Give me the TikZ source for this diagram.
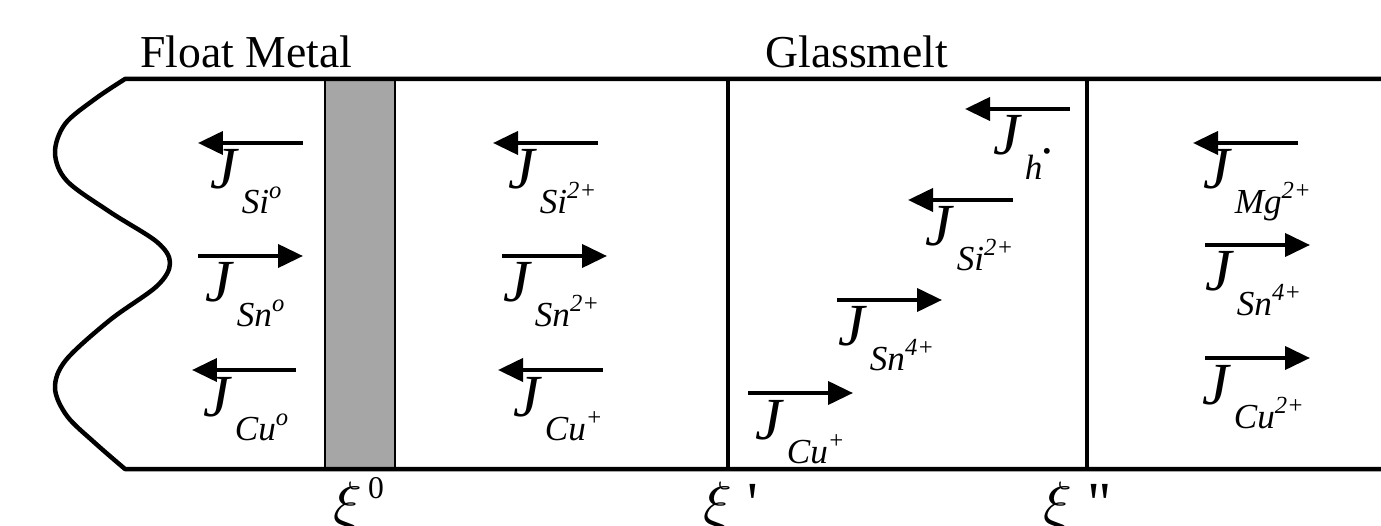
\documentclass[tikz,border=0pt]{standalone}
\usepackage{fontspec}
\setmainfont{Liberation Serif}
\usetikzlibrary{arrows.meta}

\definecolor{bandgray}{RGB}{166,166,166}
% flux label: J with species and charge
\newcommand{\jflux}[2]{{\fontsize{34}{34}\selectfont\itshape J}\hspace{0.1cm}\raisebox{-0.5cm}{\fontsize{20}{20}\selectfont\itshape #1\raisebox{0.3cm}{\fontsize{14}{14}\selectfont #2}}}
% interface position symbol
\newcommand{\bigxi}{\scalebox{3.4}{\fontsize{10}{12}\selectfont$\xi$}}

\begin{document}
\begin{tikzpicture}[
    x=0.02cm, y=-0.02cm,
    frame/.style={line width=0.09cm, line join=round},
    wall/.style={line width=0.09cm},
    band/.style={fill=bandgray, draw=black, line width=1.2pt},
    leftflux/.style={line width=0.08cm, {Triangle[length=0.5cm,width=0.46cm]}-},
    rightflux/.style={line width=0.08cm, -{Triangle[length=0.5cm,width=0.46cm]}},
    flux/.style={anchor=base west, inner sep=0pt},
    title/.style={anchor=base west, inner sep=0pt, font=\fontsize{26}{26}\selectfont},
    xilabel/.style={anchor=base west, inner sep=0pt, font=\fontsize{34}{34}\selectfont}
]
    \useasboundingbox (0,0) rectangle (1381,526);

    % Interface layer
    \draw [band] (325,79) rectangle (395,469);

    % Outline and walls
    \draw [frame] (1381,79) -- plot[smooth, tension=0.55] coordinates {(125,79) (95,99) (65,124) (55,153) (67,181) (110,212) (157,242) (170,263) (157,286) (110,320) (66,360) (55,388) (67,416) (95,443) (125,469)} -- (1381,469);
    \draw [wall] (728,79) -- (728,469);
    \draw [wall] (1087,79) -- (1087,469);

    % Titles
    \node (t_metal) [title] at (140,68) {Float Metal};
    \node (t_glass) [title] at (765,68) {Glassmelt};

    % Positions
    \node (xi0) [xilabel] at (333,523) {\bigxi\hspace{0.12cm}\raisebox{0.5cm}{\fontsize{18}{18}\selectfont 0}};
    \node (xi1) [xilabel] at (703,523) {\bigxi\hspace{0.3cm}\textquotesingle};
    \node (xi2) [xilabel] at (1043,523) {\bigxi\hspace{0.3cm}\textquotedbl};

    % Fluxes - Float Metal
    \coordinate (f_si0) at (198,143);
    \coordinate (f_sn0) at (198,256);
    \coordinate (f_cu0) at (192,370);
    \draw [leftflux] (f_si0) -- ++(105,0);
    \draw [rightflux] (f_sn0) -- ++(105,0);
    \draw [leftflux] (f_cu0) -- ++(104,0);
    \node (j_si0) [flux] at (210,189) {\jflux{Si}{o}};
    \node (j_sn0) [flux] at (205,302) {\jflux{Sn}{o}};
    \node (j_cu0) [flux] at (203,416) {\jflux{Cu}{o}};

    % Fluxes - Glassmelt near surface
    \coordinate (f_si2) at (493,143);
    \coordinate (f_sn2) at (502,256);
    \coordinate (f_cu1) at (498,370);
    \draw [leftflux] (f_si2) -- ++(105,0);
    \draw [rightflux] (f_sn2) -- ++(105,0);
    \draw [leftflux] (f_cu1) -- ++(105,0);
    \node (j_si2) [flux] at (508,189) {\jflux{Si}{2+}};
    \node (j_sn2) [flux] at (503,302) {\jflux{Sn}{2+}};
    \node (j_cu1) [flux] at (513,416) {\jflux{Cu}{+}};

    % Fluxes - Glassmelt middle
    \coordinate (g_cu1) at (748,393);
    \coordinate (g_sn4) at (837,300);
    \coordinate (g_si2) at (908,200);
    \coordinate (g_hole) at (965,109);
    \draw [rightflux] (g_cu1) -- ++(105,0);
    \draw [rightflux] (g_sn4) -- ++(105,0);
    \draw [leftflux] (g_si2) -- ++(105,0);
    \draw [leftflux] (g_hole) -- ++(105,0);
    \node (k_cu1) [flux] at (755,439) {\jflux{Cu}{+}};
    \node (k_sn4) [flux] at (838,346) {\jflux{Sn}{4+}};
    \node (k_si2) [flux] at (925,246) {\jflux{Si}{2+}};
    \node (k_hole) [flux] at (993,155) {\jflux{h}{\raisebox{0.1cm}{\textbullet}}};

    % Fluxes - Glassmelt bulk
    \coordinate (b_mg2) at (1193,143);
    \coordinate (b_sn4) at (1205,245);
    \coordinate (b_cu2) at (1205,358);
    \draw [leftflux] (b_mg2) -- ++(105,0);
    \draw [rightflux] (b_sn4) -- ++(105,0);
    \draw [rightflux] (b_cu2) -- ++(105,0);
    \node (m_mg2) [flux] at (1203,189) {\jflux{Mg}{2+}};
    \node (m_sn4) [flux] at (1205,291) {\jflux{Sn}{4+}};
    \node (m_cu2) [flux] at (1202,404) {\jflux{Cu}{2+}};
\end{tikzpicture}
\end{document}
